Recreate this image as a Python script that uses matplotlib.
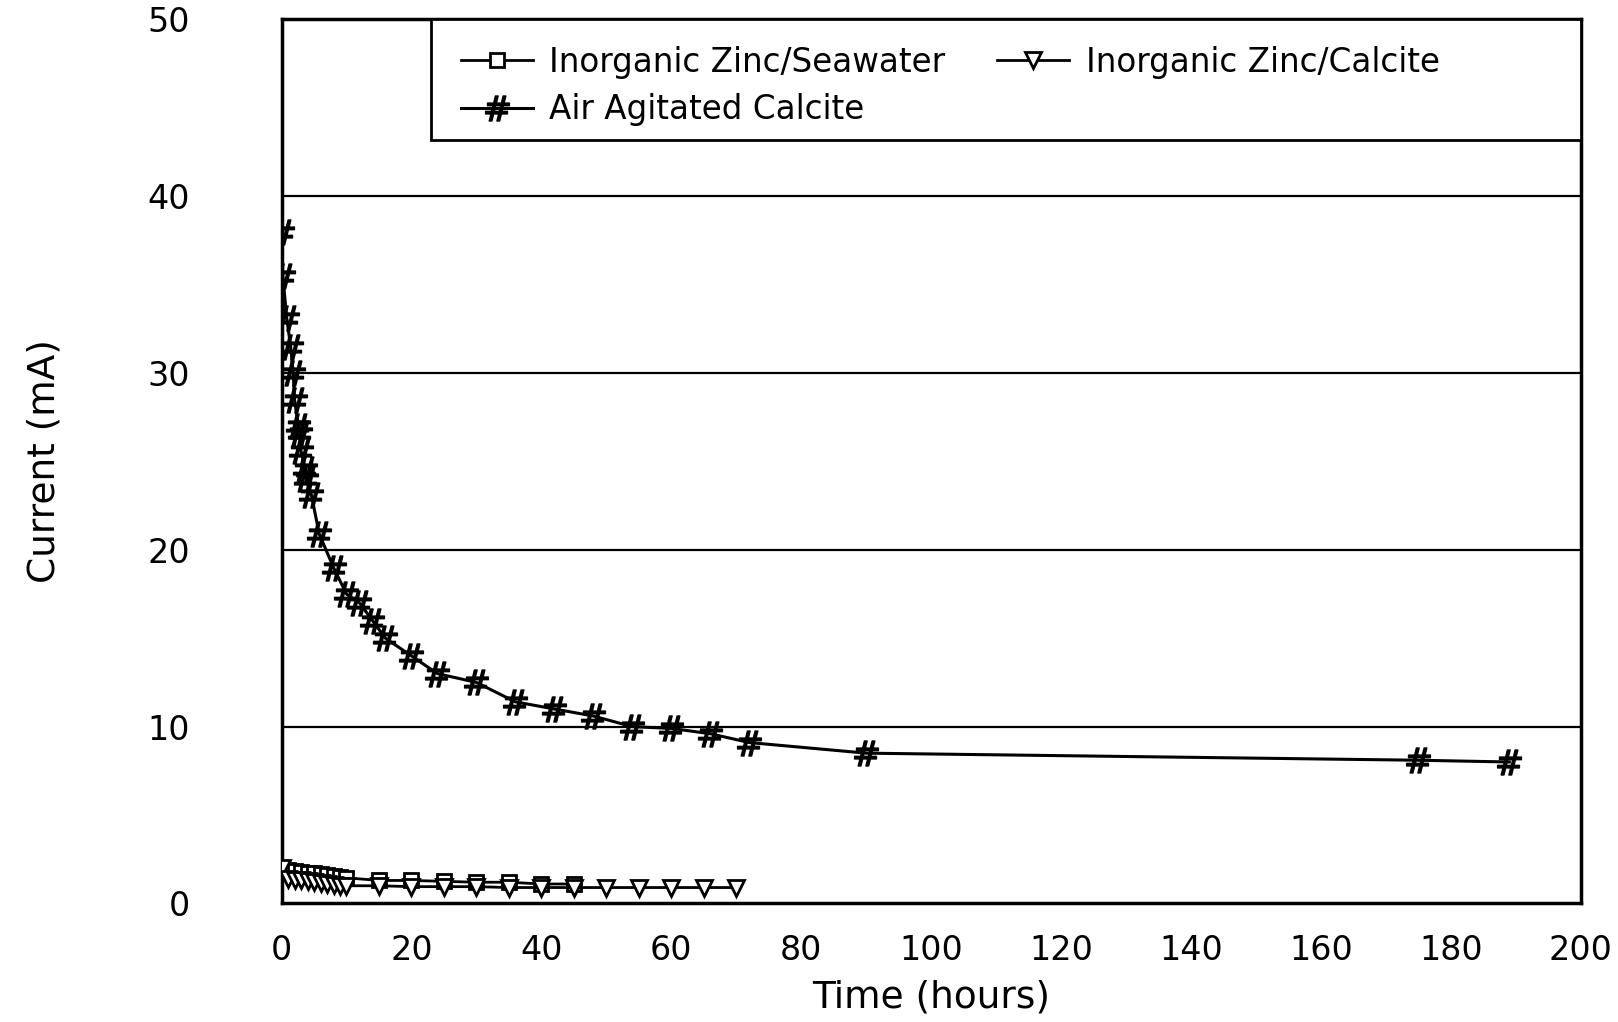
import matplotlib
matplotlib.use("Agg")
import matplotlib.pyplot as plt
from matplotlib.patches import Rectangle

plt.rcParams['font.family'] = ['DejaVu Sans']

# readings
t_sea = [0, 1, 2, 3, 4, 5, 6, 7, 8, 9, 10, 15, 20, 25, 30, 35, 40, 45]
i_sea = [2.0, 1.9, 1.85, 1.8, 1.75, 1.7, 1.65, 1.6, 1.55, 1.5, 1.45, 1.3, 1.3, 1.25, 1.2, 1.2, 1.1, 1.1]

t_cal = [0, 1, 2, 3, 4, 5, 6, 7, 8, 9, 10, 15, 20, 25, 30, 35, 40, 45, 50, 55, 60, 65, 70]
i_cal = [2.0, 1.4, 1.35, 1.3, 1.25, 1.2, 1.15, 1.1, 1.05, 1.0, 1.0, 1.0, 0.95, 0.95, 0.95, 0.9, 0.9, 0.9,
         0.9, 0.9, 0.9, 0.9, 0.9]

t_air = [0, 0.2, 0.8, 1.4, 1.8, 2.0, 2.6, 2.8, 3.0, 3.6, 3.8, 4.6, 5.8, 8, 10, 12, 14, 16, 20, 24,
         30, 36, 42, 48, 54, 60, 66, 72, 90, 175, 189]
i_air = [38.0, 35.5, 33.1, 31.5, 30.0, 28.5, 27.0, 26.6, 25.6, 24.6, 24.0, 23.1, 20.9, 19.0, 17.5, 17.0,
         16.0, 15.0, 14.0, 13.0, 12.5, 11.4, 11.0, 10.6, 10.0, 9.9, 9.6, 9.1, 8.5, 8.1, 8.0]

x_ticks = [0, 20, 40, 60, 80, 100, 120, 140, 160, 180, 200]
y_ticks = [0, 10, 20, 30, 40, 50]

fig = plt.figure(figsize=(16.18, 10.22), dpi=100)
ax = fig.add_axes([0.174, 0.116, 0.803, 0.865])

for y in [10, 20, 30, 40]:
    ax.axhline(y, color='black', lw=1.6, zorder=1)

l1, = ax.plot(t_sea, i_sea, color='black', lw=2, marker='s', ms=10, mfc='white', mec='black', mew=2,
              label='Inorganic Zinc/Seawater', zorder=3)
l2, = ax.plot(t_cal, i_cal, color='black', lw=2, marker='v', ms=12, mfc='white', mec='black', mew=2,
              label='Inorganic Zinc/Calcite', zorder=3)
l3, = ax.plot(t_air, i_air, color='black', lw=2.2, marker=r'$\#$', ms=18, mec='black', mfc='black',
              label='Air Agitated Calcite', zorder=3)

ax.set_xlim(0, 200)
ax.set_ylim(0, 50)
ax.set_xticks(x_ticks)
ax.set_yticks(y_ticks)
ax.tick_params(length=0, labelsize=24)
ax.tick_params(axis='y', pad=66)
ax.tick_params(axis='x', pad=22)
for s in ax.spines.values():
    s.set_linewidth(2.5)

ax.set_xlabel('Time (hours)', fontsize=27, labelpad=9)
ax.set_ylabel('Current (mA)', fontsize=27, labelpad=61)

ax.add_patch(Rectangle((0.115, 0.864), 0.885, 0.136, transform=ax.transAxes, fill=True,
                       facecolor='white', edgecolor='black', lw=2, zorder=4))
leg = ax.legend([l1, l3, l2], ['Inorganic Zinc/Seawater', 'Air Agitated Calcite', 'Inorganic Zinc/Calcite'],
                ncol=2, loc='upper left', bbox_to_anchor=(0.118, 1.0), frameon=False, fontsize=23.5,
                handlelength=2.2, handletextpad=0.5, columnspacing=1.6, labelspacing=0.45,
                borderaxespad=0.4)
leg.set_zorder(5)

fig.savefig('out.png', dpi=100)
